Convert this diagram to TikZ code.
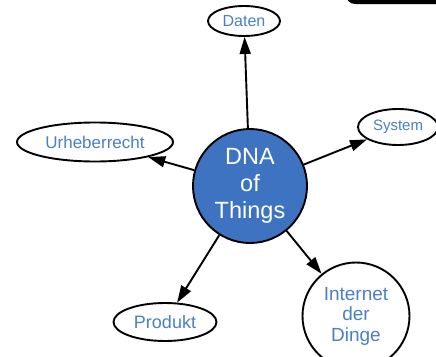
\documentclass[tikz,border=0pt]{standalone}
\usepackage{fontspec}
\setmainfont{Liberation Sans}
\usetikzlibrary{arrows.meta,shapes.geometric}
\definecolor{hubblue}{HTML}{3D73C0}
\definecolor{labelblue}{HTML}{4A80C6}
\tikzset{
  topic/.style={draw, ellipse, line width=1.9pt, inner sep=0pt, align=center,
                text=labelblue, fill=white},
  hub/.style={draw, circle, line width=1.9pt, inner sep=0pt, minimum size=114pt,
              fill=hubblue, text=white, align=center},
  flow/.style={-{Triangle[length=17pt,width=11pt]}, line width=1.9pt},
}

\begin{document}
\begin{tikzpicture}[x=1pt, y=-1pt]
  \useasboundingbox (0,0) rectangle (436,356);
  \fill[black, rounded corners=9pt] (346,-30) rectangle (470,4);
  \node[hub, font=\fontsize{23.5}{27}\selectfont] (dna) at (250,186) {DNA\\ of\\ Things};
  \node[topic, minimum width=72pt, minimum height=30pt,
        font=\fontsize{16}{18}\selectfont] (daten) at (244,21) {Daten};
  \node[topic, minimum width=156pt, minimum height=39pt,
        font=\fontsize{17}{20}\selectfont] (urheber) at (95,142) {Urheberrecht};
  \node[topic, minimum width=80pt, minimum height=36pt,
        font=\fontsize{15}{16}\selectfont] (system) at (398,127) {System};
  \node[topic, minimum width=103pt, minimum height=38pt,
        font=\fontsize{18}{20}\selectfont] (produkt) at (165,322) {Produkt};
  \node[topic, circle, minimum size=107pt,
        font=\fontsize{19}{20.5}\selectfont] (iot) at (356,316) {Internet\\ der\\ Dinge};
  \draw[flow] (dna) -- (daten);
  \draw[flow] (dna) -- (urheber);
  \draw[flow] (dna) -- (system);
  \draw[flow] (dna) -- (produkt);
  \draw[flow] (dna) -- (iot);
\end{tikzpicture}
\end{document}
